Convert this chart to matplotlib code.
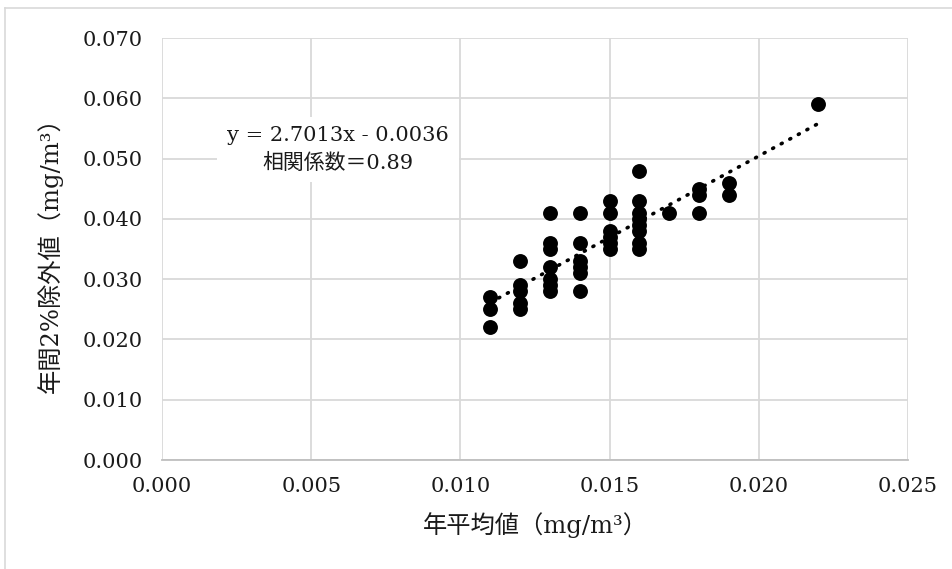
import matplotlib.pyplot as plt
from matplotlib.lines import Line2D
import numpy as np

# 年平均値 と 年間2%除外値 (mg/m3)
x_vals = [0.011, 0.011, 0.011,
          0.012, 0.012, 0.012, 0.012, 0.012,
          0.013, 0.013, 0.013, 0.013, 0.013, 0.013, 0.013,
          0.014, 0.014, 0.014, 0.014, 0.014, 0.014,
          0.015, 0.015, 0.015, 0.015, 0.015, 0.015,
          0.016, 0.016, 0.016, 0.016, 0.016, 0.016, 0.016, 0.016,
          0.017,
          0.018, 0.018, 0.018,
          0.019, 0.019,
          0.022]
y_vals = [0.027, 0.025, 0.022,
          0.033, 0.029, 0.028, 0.026, 0.025,
          0.041, 0.036, 0.035, 0.032, 0.030, 0.029, 0.028,
          0.041, 0.036, 0.033, 0.032, 0.031, 0.028,
          0.043, 0.041, 0.038, 0.037, 0.036, 0.035,
          0.048, 0.043, 0.041, 0.040, 0.039, 0.038, 0.036, 0.035,
          0.041,
          0.045, 0.044, 0.041,
          0.046, 0.044,
          0.059]

slope = 2.7013
intercept = -0.0036
r_value = 0.89

xticks = [0.000, 0.005, 0.010, 0.015, 0.020, 0.025]
yticks = [0.000, 0.010, 0.020, 0.030, 0.040, 0.050, 0.060, 0.070]

plt.rcParams['font.family'] = ['DejaVu Serif', 'Noto Sans CJK JP', 'DejaVu Sans']
txt_color = '#1a1a1a'

fig = plt.figure(figsize=(9.53, 5.69), dpi=100)
ax = fig.add_axes([162 / 953, 1 - 460 / 569, 746 / 953, 422 / 569])

# 近似直線
xt = np.array([min(x_vals), max(x_vals)])
ax.plot(xt, slope * xt + intercept, color='black', lw=2.6,
        linestyle=(0, (0.3, 2.4)), dash_capstyle='round', zorder=2)

ax.scatter(x_vals, y_vals, s=115, color='black', zorder=3, linewidths=0)

ax.set_xlim(0, 0.025)
ax.set_ylim(0, 0.070)
ax.set_xticks(xticks)
ax.set_yticks(yticks)
ax.set_xticklabels([f'{v:.3f}' for v in xticks])
ax.set_yticklabels([f'{v:.3f}' for v in yticks])
ax.tick_params(length=0, labelsize=15, colors=txt_color)
ax.tick_params(axis='y', pad=14)
ax.tick_params(axis='x', pad=12)

ax.grid(True, color='#d9d9d9', lw=1.3)
ax.set_axisbelow(True)
for s in ['top', 'right', 'left']:
    ax.spines[s].set_visible(False)
ax.spines['bottom'].set_color('#bfbfbf')
ax.spines['bottom'].set_linewidth(1.3)

ax.set_xlabel('年平均値（mg/m³）', fontsize=17.5, color=txt_color, labelpad=12)
ax.set_ylabel('年間2%除外値（mg/m³）', fontsize=17.5, color=txt_color, labelpad=14)

ax.text(0.0059, 0.0515,
        f'y = {slope}x - {abs(intercept)}\n相関係数＝{r_value}',
        ha='center', va='center', fontsize=15, color=txt_color,
        linespacing=1.45,
        bbox=dict(facecolor='white', edgecolor='none', pad=7))

# 外枠
fig.add_artist(Line2D([5 / 953, 1], [1 - 8 / 569, 1 - 8 / 569],
                      color='#d9d9d9', lw=1.2))
fig.add_artist(Line2D([5 / 953, 5 / 953], [0, 1 - 8 / 569],
                      color='#d9d9d9', lw=1.2))

fig.savefig('out.png', dpi=100)
